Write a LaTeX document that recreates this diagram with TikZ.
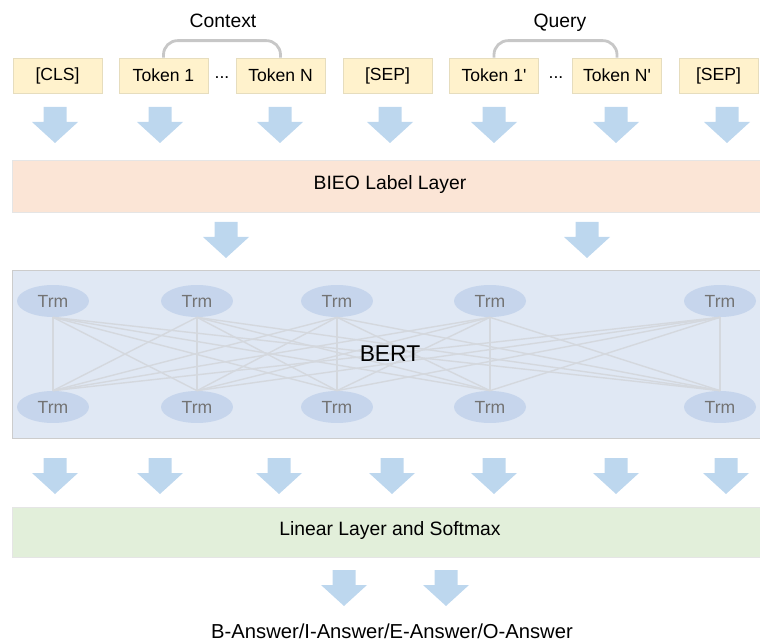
\documentclass[tikz,border=0pt]{standalone}
\usepackage{fontspec}
\setmainfont{Liberation Sans}
\usetikzlibrary{shapes.geometric}

\definecolor{tokfill}{HTML}{FFF2CC}
\definecolor{tokdraw}{HTML}{E6DDBE}
\definecolor{arrblue}{HTML}{BDD7EE}
\definecolor{bieofill}{HTML}{FBE5D6}
\definecolor{bertfill}{HTML}{E0E8F4}
\definecolor{trmfill}{HTML}{C6D5EC}
\definecolor{linfill}{HTML}{E2EFDA}
\definecolor{edgegray}{HTML}{D4D8DE}

\tikzset{
    pics/dnarrow/.style={code={
        \fill[arrblue] (-11.5,0) -- (11.5,0) -- (11.5,15) -- (23,15) -- (0,36)
            -- (-23,15) -- (-11.5,15) -- cycle;
    }}
}

\begin{document}
\begin{tikzpicture}
        [x=0.02cm, y=-0.02cm,
        token/.style={rectangle, draw=tokdraw, fill=tokfill, minimum width=1.78cm, minimum height=0.7cm, inner sep=0pt, font=\fontsize{10}{12}\selectfont},
        layer/.style={rectangle, minimum width=15cm, inner sep=0pt, font=\fontsize{11}{13}\selectfont},
        trm/.style={ellipse, fill=trmfill, minimum width=1.44cm, minimum height=0.64cm, inner sep=0pt, text=black!55, font=\fontsize{10}{12}\selectfont},
        brace/.style={draw=black!22, line width=1.6pt, rounded corners=8pt},
        edge/.style={draw=edgegray, line width=0.8pt}]
        \useasboundingbox (0,0) rectangle (760,641);

        % input tokens
        \node[token] (cls) at (57.5,75.5) {[CLS]};
        \node[token] (tok1) at (163.5,75.5) {Token 1};
        \node (dots1) at (222,78) {...};
        \node[token] (tokN) at (280.5,75.5) {Token N};
        \node[token] (sep1) at (387.5,75.5) {[SEP]};
        \node[token] (qtok1) at (494,75.5) {Token 1\textquotesingle};
        \node (dots2) at (556,78) {...};
        \node[token] (qtokN) at (617,75.5) {Token N\textquotesingle};
        \node[token, minimum width=1.58cm] (sep2) at (718.5,75.5) {[SEP]};

        \draw[brace] (tok1.north) -- ++(0,-17) -| (tokN.north);
        \draw[brace] (qtok1.north) -- ++(0,-17) -| (qtokN.north);
        \node[anchor=base, font=\fontsize{11}{13}\selectfont] (ctx) at (223,28) {Context};
        \node[anchor=base, font=\fontsize{11}{13}\selectfont] (qry) at (560,28) {Query};

        \foreach \x in {55,160,280,390,494,616,727}
            \pic at (\x,107) {dnarrow};

        \node[layer, draw=black!10, fill=bieofill, minimum height=1.04cm] (bieo) at (387,186) {};
        \node[font=\fontsize{11}{13}\selectfont] (bieolbl) at (390,185) {BIEO Label Layer};

        \pic at (226,222) {dnarrow};
        \pic at (587,222) {dnarrow};

        % BERT block
        \node[layer, draw=black!20, fill=bertfill, minimum height=3.36cm] (bert) at (387,354) {};
        \node[trm] (t1) at (53,301) {Trm};
        \node[trm] (t2) at (197,301) {Trm};
        \node[trm] (t3) at (337,301) {Trm};
        \node[trm] (t4) at (490,301) {Trm};
        \node[trm] (t5) at (720,301) {Trm};
        \node[trm] (b1) at (53,407) {Trm};
        \node[trm] (b2) at (197,407) {Trm};
        \node[trm] (b3) at (337,407) {Trm};
        \node[trm] (b4) at (490,407) {Trm};
        \node[trm] (b5) at (720,407) {Trm};
        \foreach \i in {1,...,5}
            \foreach \j in {1,...,5}
                \draw[edge] (t\i.south) -- (b\j.north);
        \node[font=\fontsize{13}{15}\selectfont] (bertlbl) at (390,354) {BERT};

        \foreach \x in {55,160,279,392,494,616,726}
            \pic at (\x,458) {dnarrow};

        \node[layer, draw=black!10, fill=linfill, minimum height=1.0cm] (lin) at (387,532) {};
        \node[font=\fontsize{11}{13}\selectfont] (linlbl) at (390,531) {Linear Layer and Softmax};

        \pic at (344,570) {dnarrow};
        \pic at (446,570) {dnarrow};

        \node[font=\fontsize{11.5}{13}\selectfont] (out) at (392,631) {B-Answer/I-Answer/E-Answer/O-Answer};

    \end{tikzpicture}
\end{document}
